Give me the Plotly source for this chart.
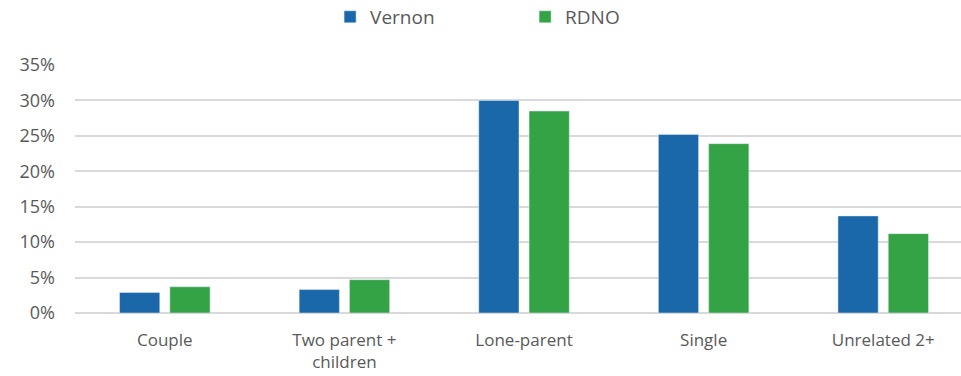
import plotly.graph_objects as go

categories = ["Couple", "Two parent +<br>children", "Lone-parent", "Single", "Unrelated 2+"]
vernon = [0.029, 0.033, 0.300, 0.252, 0.137]
rdno = [0.037, 0.047, 0.285, 0.239, 0.112]

BLUE = "#1a67a9"
GREEN = "#33a345"
TEXT = "#595959"
FONT = "Open Sans"

fig = go.Figure()
fig.add_trace(go.Bar(x=categories, y=vernon, name="Vernon", marker_color=BLUE,
                     width=0.224, offset=-0.252))
fig.add_trace(go.Bar(x=categories, y=rdno, name="RDNO", marker_color=GREEN,
                     width=0.224, offset=0.028))

fig.update_layout(
    width=961, height=376,
    margin=dict(l=75, r=0, t=65, b=63, autoexpand=False),
    paper_bgcolor="white", plot_bgcolor="white",
    font=dict(family=FONT, size=17, color=TEXT),
    barmode="group",
    legend=dict(orientation="h", yref="container", x=0.508, xanchor="center", y=0.955,
                yanchor="middle", font=dict(size=19, color=TEXT), entrywidth=150, itemwidth=30),
    showlegend=True,
)
# plot area runs off the right edge in the original, so the range is clipped
fig.update_xaxes(range=[-0.5, 4.433], showgrid=False, showline=False, ticks="",
                 automargin=False, ticklabelstandoff=15, tickfont=dict(size=17, color=TEXT))
fig.update_yaxes(range=[0, 0.35], dtick=0.05, tickformat=".0%", showgrid=True,
                 gridcolor="#d9d9d9", gridwidth=1.5, zeroline=True, zerolinecolor="#d9d9d9",
                 zerolinewidth=1.5, showline=False, ticks="", ticklabelstandoff=19,
                 automargin=False, tickfont=dict(size=18, color=TEXT))

fig.write_html("out.html", config={"displayModeBar": False},
               post_script="document.body.style.margin = '0';")
